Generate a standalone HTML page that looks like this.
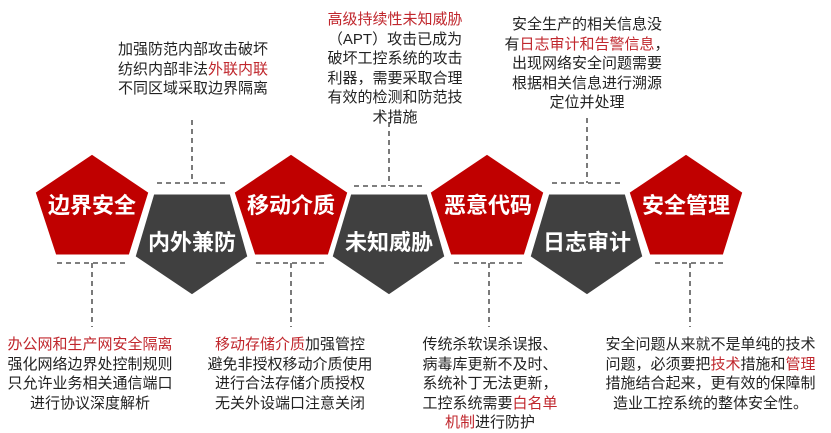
<!DOCTYPE html>
<html><head><meta charset="utf-8"><style>
html,body{margin:0;padding:0;background:#fff;}
.t{position:absolute;font-family:"Liberation Sans","Noto Sans CJK SC",sans-serif;font-size:15px;line-height:19.5px;color:#222;text-align:center;white-space:nowrap;}
.r{color:#c0272d;}
</style></head><body>
<div style="position:relative;width:831px;height:433px;overflow:hidden;">
<svg width="831" height="433" style="position:absolute;left:0;top:0">
<g stroke="#333" stroke-width="1.3" stroke-dasharray="5,4" fill="none">
<path d="M192 120V183M157 183H227"/>
<path d="M389 122V186M354 186H424"/>
<path d="M587 118V183M552 183H622"/>
<path d="M92 263V327M57 263H127"/>
<path d="M291 263V327M256 263H326"/>
<path d="M489 263V327M454 263H524"/>
<path d="M690 263V327M655 263H725"/>
</g>
<g stroke="#fff" stroke-width="3">
<polygon fill="#c00000" points="92,153 150,192 130,256 55,256 34,192"/>
<polygon fill="#c00000" points="291,153 349,192 329,256 254,256 233,192"/>
<polygon fill="#c00000" points="487,153 545,192 525,256 450,256 429,192"/>
<polygon fill="#c00000" points="686,153 744,192 724,256 649,256 628,192"/>
<polygon fill="#404040" points="153,193 231,193 249,257 192,296 134,257"/>
<polygon fill="#404040" points="350,193 428,193 446,257 389,296 331,257"/>
<polygon fill="#404040" points="548,193 626,193 644,257 587,296 529,257"/>
</g>
<g font-family="Liberation Sans,Noto Sans CJK SC,sans-serif" font-size="22" font-weight="bold" fill="#fff" text-anchor="middle">
<text x="92" y="213">边界安全</text>
<text x="291" y="213">移动介质</text>
<text x="488" y="213">恶意代码</text>
<text x="686" y="213">安全管理</text>
<text x="192" y="250">内外兼防</text>
<text x="389" y="250">未知威胁</text>
<text x="587" y="250">日志审计</text>
</g>
</svg>
<div class="t" style="left:113px;top:40px;width:160px;">加强防范内部攻击破坏<br>纺织内部非法<span class="r">外联内联</span><br>不同区域采取边界隔离</div>
<div class="t" style="left:315px;top:10px;width:160px;"><span class="r">高级持续性未知威胁</span><br>（APT）攻击已成为<br>破坏工控系统的攻击<br>利器，需要采取合理<br>有效的检测和防范技<br>术措施</div>
<div class="t" style="left:502px;top:15px;width:170px;">安全生产的相关信息没<br>有<span class="r">日志审计和告警信息</span>，<br>出现网络安全问题需要<br>根据相关信息进行溯源<br>定位并处理</div>
<div class="t" style="left:0px;top:335px;width:180px;"><span class="r">办公网和生产网安全隔离</span><br>强化网络边界处控制规则<br>只允许业务相关通信端口<br>进行协议深度解析</div>
<div class="t" style="left:200px;top:335px;width:180px;"><span class="r">移动存储介质</span>加强管控<br>避免非授权移动介质使用<br>进行合法存储介质授权<br>无关外设端口注意关闭</div>
<div class="t" style="left:410px;top:335px;width:160px;">传统杀软误杀误报、<br>病毒库更新不及时、<br>系统补丁无法更新，<br>工控系统需要<span class="r">白名单</span><br><span class="r">机制</span>进行防护</div>
<div class="t" style="left:598px;top:335px;width:225px;">安全问题从来就不是单纯的技术<br>问题，必须要把<span class="r">技术</span>措施和<span class="r">管理</span><br>措施结合起来，更有效的保障制<br>造业工控系统的整体安全性。</div>
</div>
</body></html>
